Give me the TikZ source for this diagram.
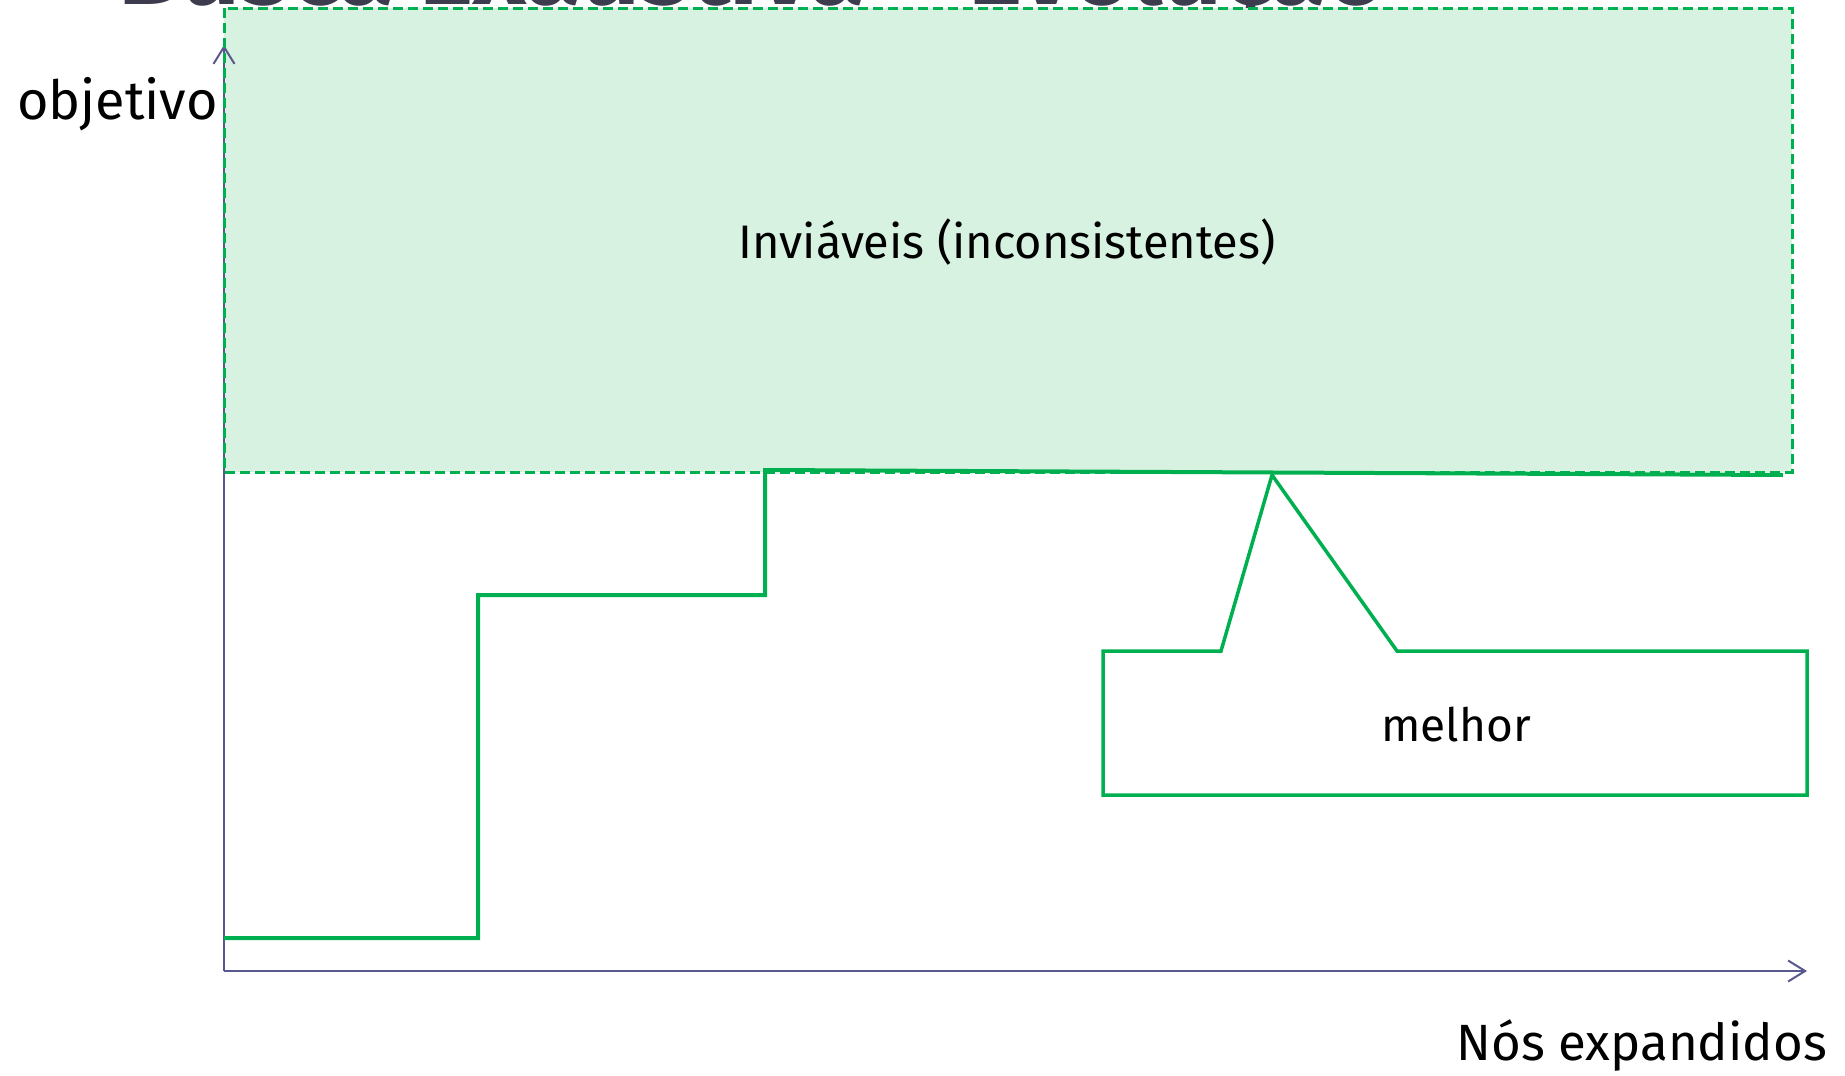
\documentclass[tikz,border=0pt]{standalone}
\usepackage{fontspec}
\setmainfont{Fira Sans}
\usetikzlibrary{arrows.meta}
\usetikzlibrary{positioning}
\definecolor{verde}{RGB}{0,176,80}
\definecolor{verdeclaro}{RGB}{216,242,226}
\definecolor{eixocor}{RGB}{88,88,140}
\definecolor{titulocor}{RGB}{60,60,78}
\tikzset{
  eixo/.style={draw=eixocor, line width=2pt, -{Straight Barb[length=17pt,width=21pt,line width=2pt]}},
  degrau/.style={draw=verde, line width=4pt, line join=miter},
  rotulo/.style={font=\fontsize{47}{54}\selectfont, inner sep=0pt},
}
\begin{document}
\begin{tikzpicture}[x=1pt,y=-1pt]
    \useasboundingbox (0,0) rectangle (1845,1076);
    \clip (0,0) rectangle (1845,1076);
    % titulo (cortado em cima)
    \node[anchor=base west, inner sep=0pt, text=titulocor, font=\fontsize{103}{116}\selectfont\bfseries] (titulo) at (118,5) {Busca Exaustiva -- Evolução};
    % regiao inviavel
    \fill[verdeclaro] (224,8) rectangle (1792,472);
    % eixos
    \coordinate (origem) at (224,971);
    \coordinate (topo) at (224,45);
    \coordinate (fim) at (1807,971);
    \draw[eixo] (origem) -- (topo);
    \draw[eixo] (origem) -- (fim);
    \draw[verde, line width=3pt, dash pattern=on 10pt off 5pt] (224,8) rectangle (1792,472);
    \node[rotulo] (inviaveis) at (1007,242) {Inviáveis (inconsistentes)};
    \node[rotulo, anchor=east, font=\fontsize{54}{62}\selectfont] (objetivo) at (218,104) {objetivo};
    \node[rotulo, anchor=east, font=\fontsize{51}{58}\selectfont] (nos) at (1827,1045) {Nós expandidos};
    % melhor solucao ao longo da busca
    \draw[degrau] (224,938) -- (478,938) -- (478,595) -- (765,595) -- (765,470) -- (1783,475);
    % chamada
    \coordinate (ponta) at (1272,475);
    \draw[verde, line width=3.5pt, fill=white, line join=miter]
        (1103,651) -- (1221,651) -- (ponta) -- (1397,651) -- (1807,651) -- (1807,795) -- (1103,795) -- cycle;
    \node[rotulo, font=\fontsize{46}{52}\selectfont] (melhor) at (1456,725) {melhor};
\end{tikzpicture}
\end{document}
